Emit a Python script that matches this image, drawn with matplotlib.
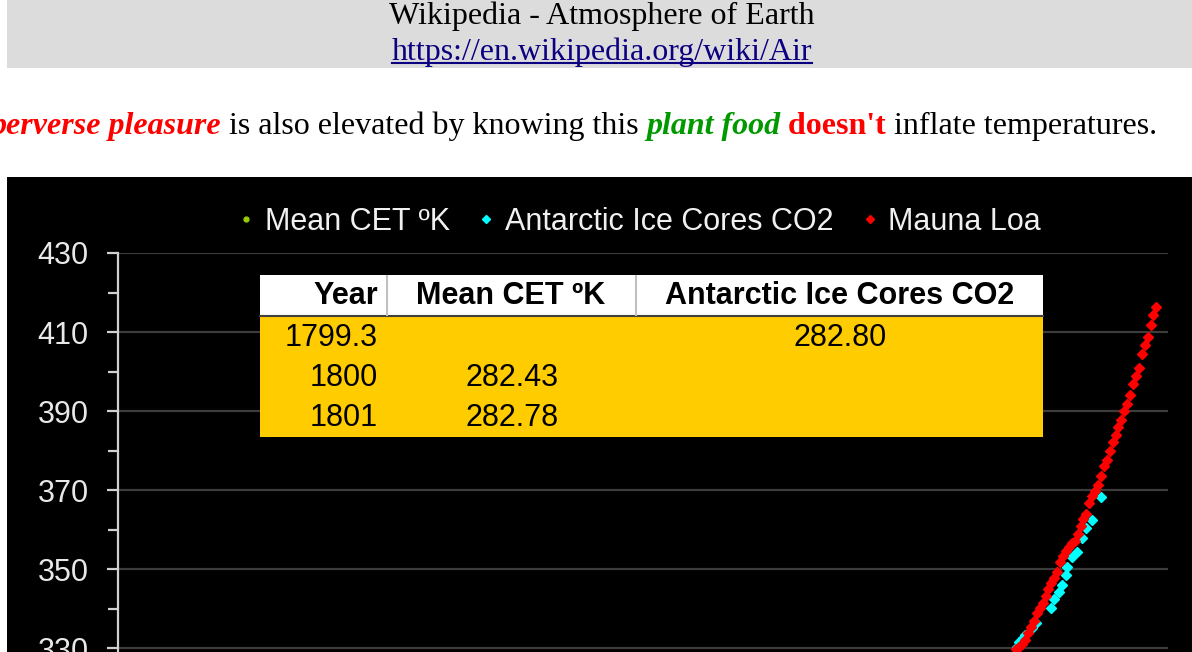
import matplotlib.pyplot as plt
from matplotlib.patches import Rectangle
from matplotlib.lines import Line2D
from matplotlib.ticker import MultipleLocator

W, H = 1192, 652

page_title = 'Wikipedia - Atmosphere of Earth'
page_link = 'https://en.wikipedia.org/wiki/Air'
# (text, colour, weight, style)
sentence = [
    ('perverse pleasure', '#ff0000', 'bold', 'italic'),
    (' is also elevated by knowing this ', 'black', 'normal', 'normal'),
    ('plant food', '#009900', 'bold', 'italic'),
    (" doesn't", '#ff0000', 'bold', 'normal'),
    (' inflate temperatures.', 'black', 'normal', 'normal'),
]

legend_labels = ['Mean CET ºK', 'Antarctic Ice Cores CO2', 'Mauna Loa']

# Mauna Loa annual means, ppm
ml_years = list(range(1959, 2022))
ml_co2 = [315.98, 316.91, 317.64, 318.45, 318.99, 319.62, 320.04, 321.37, 322.18, 323.05,
          324.62, 325.68, 326.32, 327.46, 329.68, 330.19, 331.13, 332.03, 333.84, 335.41,
          336.84, 338.76, 340.12, 341.48, 343.15, 344.87, 346.35, 347.61, 349.31, 351.69,
          353.20, 354.45, 355.70, 356.54, 357.21, 358.96, 360.97, 362.74, 363.88, 366.84,
          368.54, 369.71, 371.32, 373.45, 375.98, 377.70, 379.98, 382.09, 384.02, 385.83,
          387.64, 390.10, 391.85, 394.06, 396.74, 398.81, 401.01, 404.41, 406.76, 408.72,
          411.66, 414.24, 416.45]

# Antarctic ice cores
ice_years = [1799.3, 1973.3, 1974.0, 1975.2, 1976.0, 1978.5, 1979.8, 1985.0, 1986.0, 1987.7,
             1988.7, 1990.1, 1990.4, 1992.2, 1993.9, 1995.6, 1996.9, 1999.0, 2002.1]
ice_co2 = [282.80, 330.3, 331.5, 332.6, 333.2, 335.0, 336.3, 340.1, 342.4, 344.2,
           346.0, 348.5, 350.5, 353.0, 354.3, 357.8, 360.4, 362.4, 368.2]

cet_years = [1800, 1801]
cet_k = [282.43, 282.78]

table_header = ['Year', 'Mean CET ºK', 'Antarctic Ice Cores CO2']
table_year = ['1799.3', '1800', '1801']
table_cet = ['', '282.43', '282.78']
table_ice = ['282.80', '', '']


def px(x, y):
    return x / W, 1 - y / H


fig = plt.figure(figsize=(W / 100, H / 100), dpi=100)
fig.patch.set_facecolor('white')
r = fig.canvas.get_renderer()

# page header
fig.patches.append(Rectangle(px(7, 68), (W - 7) / W, 68 / H, transform=fig.transFigure,
                             facecolor='#dcdcdc', edgecolor='none', zorder=-2))
serif = 'Liberation Serif'
fig.text(*px(602, 24), page_title, family=serif, fontsize=23, ha='center', va='baseline')
lt = fig.text(*px(602, 60), page_link, family=serif, fontsize=23, ha='center', va='baseline',
              color='#0b0080')
bb = lt.get_window_extent(r)
fig.add_artist(Line2D([bb.x0 / W, bb.x1 / W], [1 - 63 / H] * 2, transform=fig.transFigure,
                      color='#0b0080', lw=1.5))

x = -10
for s, c, w, st in sentence:
    t = fig.text(*px(x, 134), s, family=serif, fontsize=23, color=c, weight=w, style=st,
                 ha='left', va='baseline')
    x += t.get_window_extent(r).width

# chart background
fig.patches.append(Rectangle(px(7, H), (W - 7) / W, (H - 177) / H, transform=fig.transFigure,
                             facecolor='black', edgecolor='none', zorder=-1))

ax = fig.add_axes([118 / W, 0, 1050 / W, (H - 253) / H])
ax.set_facecolor('none')
ax.plot(cet_years, cet_k, 'o', color='#99cc00', ms=5, label=legend_labels[0])
ax.plot(ice_years, ice_co2, 'D', color='#00ffff', ms=5.5, label=legend_labels[1])
ax.plot(ml_years, ml_co2, 'D', color='#ff0000', ms=5.5, label=legend_labels[2])
ax.set_xlim(1665, 2025)
ax.set_ylim(329.0, 430)
ax.yaxis.set_major_locator(MultipleLocator(20, offset=10))
ax.yaxis.set_minor_locator(MultipleLocator(10))
ax.grid(axis='y', which='major', color='#3c3c3c', lw=1.6)
ax.set_axisbelow(True)
for side in ['top', 'right', 'bottom']:
    ax.spines[side].set_visible(False)
ax.spines['left'].set_color('#d0d0d0')
ax.spines['left'].set_linewidth(1.6)
ax.set_xticks([])
ax.tick_params(axis='y', which='both', direction='out', color='#d0d0d0', width=1.6,
               labelcolor='#e8e8e8', labelsize=22, pad=13)
ax.tick_params(axis='y', which='major', length=8)
ax.tick_params(axis='y', which='minor', length=7)
for lab in ax.get_yticklabels():
    lab.set_family('Liberation Sans')

leg = fig.legend(loc='center', bbox_to_anchor=px(639, 222), ncol=3, frameon=False,
                 prop={'family': 'Liberation Sans', 'size': 22}, labelcolor='#f0f0f0',
                 handlelength=0.6, handletextpad=0.3, columnspacing=0.9, markerscale=0.7,
                 borderpad=0, borderaxespad=0)

# data table overlay
sans = 'Liberation Sans'
fig.patches.append(Rectangle(px(260, 316), 783 / W, 41 / H, transform=fig.transFigure,
                             facecolor='white', edgecolor='none', zorder=3))
fig.patches.append(Rectangle(px(260, 437), 783 / W, 121 / H, transform=fig.transFigure,
                             facecolor='#ffcc00', edgecolor='none', zorder=3))
fig.add_artist(Line2D([260 / W, 1043 / W], [1 - 316 / H] * 2, transform=fig.transFigure,
                      color='#404040', lw=1.5, zorder=4))
for xd in [387, 636]:
    fig.add_artist(Line2D([xd / W] * 2, [1 - 276 / H, 1 - 315 / H], transform=fig.transFigure,
                          color='#c0c0c0', lw=1.5, zorder=4))

hdr_x = [(378, 'right'), (511, 'center'), (840, 'center')]
for (hx, ha), txt in zip(hdr_x, table_header):
    fig.text(*px(hx, 296), txt, family=sans, fontsize=22, weight='bold', ha=ha, va='center',
             zorder=5)
for i, yc in enumerate([338, 378, 418]):
    fig.text(*px(378, yc), table_year[i], family=sans, fontsize=22, ha='right', va='center',
             zorder=5)
    fig.text(*px(512, yc), table_cet[i], family=sans, fontsize=22, ha='center', va='center',
             zorder=5)
    fig.text(*px(840, yc), table_ice[i], family=sans, fontsize=22, ha='center', va='center',
             zorder=5)

fig.savefig('out.png', dpi=100)
